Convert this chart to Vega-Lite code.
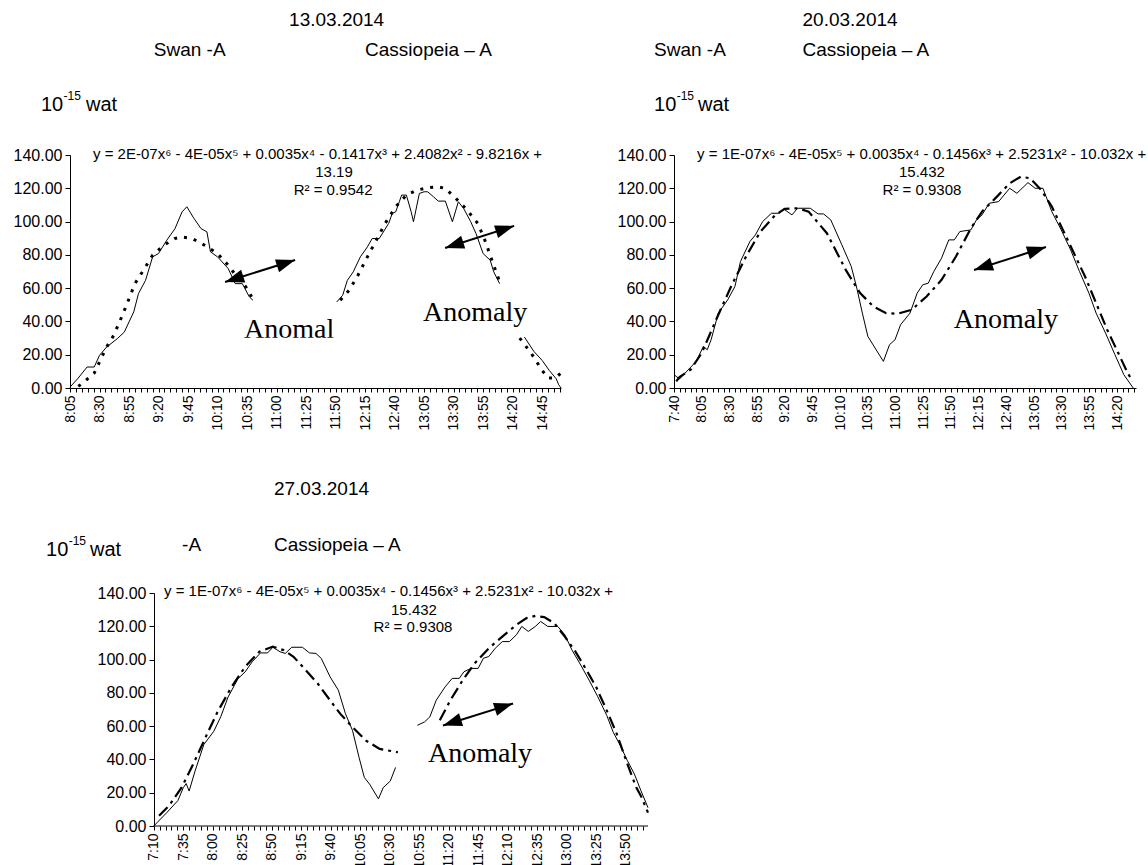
{
  "$schema": "https://vega.github.io/schema/vega-lite/v6.json",
  "padding": {"left": 13, "top": 10, "right": 5, "bottom": 5},
  "background": "white",
  "config": {
    "view": {"stroke": null},
    "axis": {"labelFont": "Liberation Sans", "labelColor": "black", "domainColor": "black", "tickColor": "black", "grid": false, "domainWidth": 1, "tickWidth": 1},
    "axisX": {"labelAngle": 270, "labelFontSize": 14, "tickSize": 4, "labelOverlap": false, "labelFlush": false, "labelPadding": 3, "labelBound": false},
    "axisY": {"labelFontSize": 16, "tickSize": 5, "labelPadding": 3},
    "text": {"font": "Liberation Sans", "color": "black"}
  },
  "datasets": {
    "l1": [
      {"s":"obs","g":"a","t":485,"v":0.5},{"s":"obs","g":"a","t":492,"v":6},{"s":"obs","g":"a","t":499.5,"v":12.6},{"s":"obs","g":"a","t":505.5,"v":12.6},{"s":"obs","g":"a","t":510,"v":19.6},{"s":"obs","g":"a","t":516,"v":24.6},{"s":"obs","g":"a","t":525,"v":29.6},{"s":"obs","g":"a","t":531,"v":33.6},{"s":"obs","g":"a","t":539,"v":45.7},{"s":"obs","g":"a","t":543,"v":56.7},{"s":"obs","g":"a","t":549,"v":64.7},{"s":"obs","g":"a","t":555,"v":78.8},{"s":"obs","g":"a","t":560,"v":80.8},{"s":"obs","g":"a","t":567,"v":88.8},{"s":"obs","g":"a","t":574,"v":95.8},{"s":"obs","g":"a","t":580,"v":105.9},{"s":"obs","g":"a","t":584,"v":108.9},{"s":"obs","g":"a","t":590,"v":101.9},{"s":"obs","g":"a","t":596,"v":95.8},{"s":"obs","g":"a","t":601,"v":93.8},{"s":"obs","g":"a","t":604,"v":81.8},{"s":"obs","g":"a","t":610,"v":78.8},{"s":"obs","g":"a","t":619,"v":71.8},{"s":"obs","g":"a","t":625,"v":62.7},{"s":"obs","g":"a","t":631,"v":62.7},{"s":"obs","g":"a","t":637,"v":54.7},{"s":"obs","g":"a","t":640,"v":52.7},
      {"s":"obs","g":"b","t":711,"v":51.7},{"s":"obs","g":"b","t":716,"v":55.7},{"s":"obs","g":"b","t":720,"v":64.7},{"s":"obs","g":"b","t":725,"v":69.8},{"s":"obs","g":"b","t":731,"v":78.8},{"s":"obs","g":"b","t":737,"v":84.8},{"s":"obs","g":"b","t":741,"v":89.8},{"s":"obs","g":"b","t":747,"v":89.8},{"s":"obs","g":"b","t":755,"v":98.9},{"s":"obs","g":"b","t":758,"v":104.9},{"s":"obs","g":"b","t":761,"v":105.9},{"s":"obs","g":"b","t":764,"v":111.9},{"s":"obs","g":"b","t":766,"v":115.9},{"s":"obs","g":"b","t":770,"v":115.9},{"s":"obs","g":"b","t":774,"v":106},{"s":"obs","g":"b","t":776,"v":99.9},{"s":"obs","g":"b","t":781,"v":116.9},{"s":"obs","g":"b","t":785,"v":117.9},{"s":"obs","g":"b","t":788,"v":117.9},{"s":"obs","g":"b","t":793,"v":114.9},{"s":"obs","g":"b","t":797,"v":112.3},{"s":"obs","g":"b","t":803,"v":112.3},{"s":"obs","g":"b","t":809,"v":99.9},{"s":"obs","g":"b","t":814,"v":111.9},{"s":"obs","g":"b","t":818.5,"v":107.9},{"s":"obs","g":"b","t":824.5,"v":99.9},{"s":"obs","g":"b","t":829,"v":92.8},{"s":"obs","g":"b","t":835,"v":80.8},{"s":"obs","g":"b","t":841,"v":76.8},{"s":"obs","g":"b","t":844,"v":69.8},{"s":"obs","g":"b","t":849,"v":62.7},
      {"s":"obs","g":"c","t":870,"v":30.6},{"s":"obs","g":"c","t":878,"v":22},{"s":"obs","g":"c","t":885,"v":16.6},{"s":"obs","g":"c","t":891,"v":10.6},{"s":"obs","g":"c","t":897,"v":5.5},{"s":"obs","g":"c","t":899,"v":2},{"s":"obs","g":"c","t":901,"v":0},
      {"s":"fit","g":"a","t":492,"v":1},{"s":"fit","g":"a","t":495,"v":2.5},{"s":"fit","g":"a","t":505.5,"v":8.9},{"s":"fit","g":"a","t":516,"v":24.6},{"s":"fit","g":"a","t":522,"v":31.6},{"s":"fit","g":"a","t":530,"v":44.7},{"s":"fit","g":"a","t":540,"v":62.7},{"s":"fit","g":"a","t":549,"v":72.8},{"s":"fit","g":"a","t":555,"v":79.8},{"s":"fit","g":"a","t":564.5,"v":85.8},{"s":"fit","g":"a","t":573.5,"v":89.8},{"s":"fit","g":"a","t":579.5,"v":90.8},{"s":"fit","g":"a","t":588.5,"v":89.8},{"s":"fit","g":"a","t":599,"v":85.8},{"s":"fit","g":"a","t":610,"v":80.8},{"s":"fit","g":"a","t":619,"v":73.8},{"s":"fit","g":"a","t":626.5,"v":66.7},{"s":"fit","g":"a","t":634,"v":60.7},{"s":"fit","g":"a","t":641.5,"v":51.7},
      {"s":"fit","g":"b","t":714,"v":52.7},{"s":"fit","g":"b","t":721.5,"v":58.7},{"s":"fit","g":"b","t":729,"v":67.8},{"s":"fit","g":"b","t":737,"v":78.8},{"s":"fit","g":"b","t":744.5,"v":88.8},{"s":"fit","g":"b","t":752,"v":98.9},{"s":"fit","g":"b","t":761,"v":108.9},{"s":"fit","g":"b","t":770,"v":115.9},{"s":"fit","g":"b","t":779,"v":118.9},{"s":"fit","g":"b","t":788,"v":120.3},{"s":"fit","g":"b","t":797,"v":120.9},{"s":"fit","g":"b","t":803,"v":119.9},{"s":"fit","g":"b","t":812,"v":113.9},{"s":"fit","g":"b","t":821.5,"v":106.9},{"s":"fit","g":"b","t":830.5,"v":98.9},{"s":"fit","g":"b","t":836.5,"v":88.8},{"s":"fit","g":"b","t":842.5,"v":76.8},{"s":"fit","g":"b","t":848.5,"v":64.7},
      {"s":"fit","g":"c","t":866,"v":30},{"s":"fit","g":"c","t":876,"v":20.6},{"s":"fit","g":"c","t":885,"v":10.6},{"s":"fit","g":"c","t":890,"v":6},{"s":"fit","g":"c","t":896,"v":6},{"s":"fit","g":"c","t":901,"v":9}
    ],
    "l2": [
      {"s":"obs","g":"a","t":460,"v":8},{"s":"obs","g":"a","t":465,"v":5.4},{"s":"obs","g":"a","t":480,"v":16},{"s":"obs","g":"a","t":486.5,"v":25},{"s":"obs","g":"a","t":490,"v":23},{"s":"obs","g":"a","t":493.5,"v":29},{"s":"obs","g":"a","t":500,"v":45},{"s":"obs","g":"a","t":508.5,"v":53},{"s":"obs","g":"a","t":515,"v":61},{"s":"obs","g":"a","t":520,"v":76},{"s":"obs","g":"a","t":528.5,"v":88},{"s":"obs","g":"a","t":533.5,"v":92},{"s":"obs","g":"a","t":540,"v":100},{"s":"obs","g":"a","t":548,"v":105},{"s":"obs","g":"a","t":555,"v":105},{"s":"obs","g":"a","t":559,"v":107.6},{"s":"obs","g":"a","t":566.5,"v":104},{"s":"obs","g":"a","t":571.5,"v":108},{"s":"obs","g":"a","t":583,"v":108},{"s":"obs","g":"a","t":590,"v":104.6},{"s":"obs","g":"a","t":595,"v":104.6},{"s":"obs","g":"a","t":601.5,"v":101},{"s":"obs","g":"a","t":611.5,"v":86},{"s":"obs","g":"a","t":620,"v":73},{"s":"obs","g":"a","t":625,"v":60},{"s":"obs","g":"a","t":630,"v":45},{"s":"obs","g":"a","t":635,"v":31},{"s":"obs","g":"a","t":641.5,"v":24},{"s":"obs","g":"a","t":649,"v":16},{"s":"obs","g":"a","t":654.5,"v":26},{"s":"obs","g":"a","t":659.5,"v":29},{"s":"obs","g":"a","t":664.5,"v":38},{"s":"obs","g":"a","t":673,"v":45},{"s":"obs","g":"a","t":679.5,"v":57},{"s":"obs","g":"a","t":684.5,"v":62},{"s":"obs","g":"a","t":689.5,"v":63},{"s":"obs","g":"a","t":694.5,"v":70},{"s":"obs","g":"a","t":701.5,"v":78},{"s":"obs","g":"a","t":708,"v":89},{"s":"obs","g":"a","t":713,"v":89},{"s":"obs","g":"a","t":718,"v":94},{"s":"obs","g":"a","t":728,"v":95},{"s":"obs","g":"a","t":733,"v":101},{"s":"obs","g":"a","t":738,"v":104},{"s":"obs","g":"a","t":744.5,"v":111},{"s":"obs","g":"a","t":753,"v":112},{"s":"obs","g":"a","t":763,"v":120},{"s":"obs","g":"a","t":769.5,"v":117},{"s":"obs","g":"a","t":779.5,"v":123.4},{"s":"obs","g":"a","t":786,"v":120},{"s":"obs","g":"a","t":793,"v":120},{"s":"obs","g":"a","t":801,"v":106},{"s":"obs","g":"a","t":809.5,"v":95},{"s":"obs","g":"a","t":818,"v":83},{"s":"obs","g":"a","t":826,"v":70},{"s":"obs","g":"a","t":834.5,"v":57},{"s":"obs","g":"a","t":841,"v":45},{"s":"obs","g":"a","t":849.5,"v":33},{"s":"obs","g":"a","t":858,"v":20},{"s":"obs","g":"a","t":866,"v":8},{"s":"obs","g":"a","t":874.5,"v":0},
      {"s":"fit","g":"a","t":462,"v":4},{"s":"fit","g":"a","t":465,"v":6.6},{"s":"fit","g":"a","t":475,"v":11},{"s":"fit","g":"a","t":485,"v":21},{"s":"fit","g":"a","t":498,"v":41},{"s":"fit","g":"a","t":511.5,"v":61},{"s":"fit","g":"a","t":525,"v":79},{"s":"fit","g":"a","t":538,"v":94},{"s":"fit","g":"a","t":551.5,"v":104},{"s":"fit","g":"a","t":560,"v":107.6},{"s":"fit","g":"a","t":571.5,"v":108},{"s":"fit","g":"a","t":581.5,"v":106},{"s":"fit","g":"a","t":598,"v":93},{"s":"fit","g":"a","t":615,"v":71},{"s":"fit","g":"a","t":628,"v":57},{"s":"fit","g":"a","t":640,"v":49},{"s":"fit","g":"a","t":651.5,"v":45},{"s":"fit","g":"a","t":661.5,"v":44.6},{"s":"fit","g":"a","t":674.5,"v":47},{"s":"fit","g":"a","t":688,"v":55},{"s":"fit","g":"a","t":701.5,"v":65},{"s":"fit","g":"a","t":714.5,"v":79},{"s":"fit","g":"a","t":728,"v":96},{"s":"fit","g":"a","t":738,"v":106},{"s":"fit","g":"a","t":751.5,"v":115},{"s":"fit","g":"a","t":763,"v":123},{"s":"fit","g":"a","t":773,"v":127},{"s":"fit","g":"a","t":781.5,"v":126},{"s":"fit","g":"a","t":791.5,"v":119},{"s":"fit","g":"a","t":801,"v":109},{"s":"fit","g":"a","t":811,"v":95},{"s":"fit","g":"a","t":821,"v":81},{"s":"fit","g":"a","t":831,"v":67},{"s":"fit","g":"a","t":841,"v":51},{"s":"fit","g":"a","t":851,"v":35},{"s":"fit","g":"a","t":861,"v":21},{"s":"fit","g":"a","t":869.5,"v":9},{"s":"fit","g":"a","t":874,"v":4}
    ],
    "l3": [
      {"s":"obs","g":"a","t":430,"v":0},{"s":"obs","g":"a","t":441,"v":8},{"s":"obs","g":"a","t":450.5,"v":15.3},{"s":"obs","g":"a","t":455,"v":23},{"s":"obs","g":"a","t":457.5,"v":25.5},{"s":"obs","g":"a","t":460,"v":21},{"s":"obs","g":"a","t":465,"v":33},{"s":"obs","g":"a","t":472.5,"v":49},{"s":"obs","g":"a","t":481,"v":57},{"s":"obs","g":"a","t":487,"v":66},{"s":"obs","g":"a","t":493,"v":77.5},{"s":"obs","g":"a","t":501.5,"v":88.6},{"s":"obs","g":"a","t":507.5,"v":92.6},{"s":"obs","g":"a","t":513.5,"v":98.7},{"s":"obs","g":"a","t":520.5,"v":104},{"s":"obs","g":"a","t":526.5,"v":104},{"s":"obs","g":"a","t":531,"v":107.4},{"s":"obs","g":"a","t":537,"v":104.7},{"s":"obs","g":"a","t":541.5,"v":103.7},{"s":"obs","g":"a","t":547,"v":107.4},{"s":"obs","g":"a","t":556,"v":107.4},{"s":"obs","g":"a","t":562,"v":104},{"s":"obs","g":"a","t":567.5,"v":103.7},{"s":"obs","g":"a","t":572,"v":100.7},{"s":"obs","g":"a","t":579.5,"v":89.6},{"s":"obs","g":"a","t":586.5,"v":81.6},{"s":"obs","g":"a","t":592.5,"v":67.5},{"s":"obs","g":"a","t":598.5,"v":57.4},{"s":"obs","g":"a","t":604,"v":41.3},{"s":"obs","g":"a","t":608.5,"v":29.2},{"s":"obs","g":"a","t":613,"v":25.1},{"s":"obs","g":"a","t":620.5,"v":16.3},{"s":"obs","g":"a","t":624.5,"v":23},{"s":"obs","g":"a","t":630.5,"v":27},{"s":"obs","g":"a","t":635,"v":35.2},
      {"s":"obs","g":"b","t":653.5,"v":60.5},{"s":"obs","g":"b","t":659.5,"v":62.5},{"s":"obs","g":"b","t":664,"v":65.5},{"s":"obs","g":"b","t":669.5,"v":75.6},{"s":"obs","g":"b","t":677,"v":83.6},{"s":"obs","g":"b","t":683,"v":88.7},{"s":"obs","g":"b","t":689,"v":88.7},{"s":"obs","g":"b","t":693,"v":92.7},{"s":"obs","g":"b","t":699,"v":94.7},{"s":"obs","g":"b","t":705,"v":94.7},{"s":"obs","g":"b","t":709.5,"v":100.8},{"s":"obs","g":"b","t":714,"v":101.8},{"s":"obs","g":"b","t":719.5,"v":106.8},{"s":"obs","g":"b","t":725.5,"v":110.8},{"s":"obs","g":"b","t":731.5,"v":110.8},{"s":"obs","g":"b","t":737.5,"v":114.9},{"s":"obs","g":"b","t":742,"v":119.9},{"s":"obs","g":"b","t":747.5,"v":116.9},{"s":"obs","g":"b","t":753.5,"v":119.9},{"s":"obs","g":"b","t":758,"v":122.9},{"s":"obs","g":"b","t":764,"v":119.9},{"s":"obs","g":"b","t":772.5,"v":119.9},{"s":"obs","g":"b","t":778.5,"v":114.9},{"s":"obs","g":"b","t":784.5,"v":105.8},{"s":"obs","g":"b","t":792,"v":96.7},{"s":"obs","g":"b","t":799,"v":87.7},{"s":"obs","g":"b","t":806.5,"v":77.6},{"s":"obs","g":"b","t":814,"v":66.5},{"s":"obs","g":"b","t":819.5,"v":56.4},{"s":"obs","g":"b","t":825.5,"v":48.4},{"s":"obs","g":"b","t":831.5,"v":39.3},{"s":"obs","g":"b","t":837.5,"v":31.2},{"s":"obs","g":"b","t":843,"v":21.2},{"s":"obs","g":"b","t":849,"v":11},
      {"s":"fit","g":"a","t":434.5,"v":6.1},{"s":"fit","g":"a","t":443,"v":12.2},{"s":"fit","g":"a","t":453.5,"v":23},{"s":"fit","g":"a","t":463.5,"v":37.2},{"s":"fit","g":"a","t":474,"v":53.4},{"s":"fit","g":"a","t":484,"v":68.5},{"s":"fit","g":"a","t":496,"v":83.6},{"s":"fit","g":"a","t":507.5,"v":95.7},{"s":"fit","g":"a","t":519.5,"v":104.7},{"s":"fit","g":"a","t":531,"v":107.8},{"s":"fit","g":"a","t":540,"v":105.7},{"s":"fit","g":"a","t":548.5,"v":101.7},{"s":"fit","g":"a","t":557.5,"v":94.7},{"s":"fit","g":"a","t":569,"v":85.6},{"s":"fit","g":"a","t":579.5,"v":75.5},{"s":"fit","g":"a","t":588,"v":67.5},{"s":"fit","g":"a","t":598.5,"v":59.4},{"s":"fit","g":"a","t":610,"v":51.3},{"s":"fit","g":"a","t":621.5,"v":46.3},{"s":"fit","g":"a","t":637,"v":44.3},
      {"s":"fit","g":"b","t":672.5,"v":63.5},{"s":"fit","g":"b","t":681.5,"v":75.6},{"s":"fit","g":"b","t":692,"v":87.7},{"s":"fit","g":"b","t":702,"v":97.7},{"s":"fit","g":"b","t":714,"v":106.8},{"s":"fit","g":"b","t":725.5,"v":113.8},{"s":"fit","g":"b","t":737.5,"v":120.9},{"s":"fit","g":"b","t":746,"v":124.9},{"s":"fit","g":"b","t":753.5,"v":126.3},{"s":"fit","g":"b","t":761,"v":125.5},{"s":"fit","g":"b","t":769.5,"v":121.9},{"s":"fit","g":"b","t":778.5,"v":113.8},{"s":"fit","g":"b","t":787.5,"v":104.8},{"s":"fit","g":"b","t":796,"v":94.7},{"s":"fit","g":"b","t":805,"v":83.6},{"s":"fit","g":"b","t":814,"v":69.5},{"s":"fit","g":"b","t":822.5,"v":55.4},{"s":"fit","g":"b","t":831.5,"v":37.3},{"s":"fit","g":"b","t":839,"v":23.2},{"s":"fit","g":"b","t":843,"v":18.1},{"s":"fit","g":"b","t":849,"v":8},
      {"s":"base","g":"z","t":430,"v":0},{"s":"base","g":"z","t":849,"v":0}
    ],
    "a1": [
      {"k":"A","e":"l","t":616.4,"v":63.7},{"k":"A","e":"r","t":675.7,"v":76.9},
      {"k":"B","e":"l","t":802.8,"v":84.1},{"k":"B","e":"r","t":861.3,"v":97.4}
    ],
    "a2": [
      {"k":"A","e":"l","t":730.8,"v":70.9},{"k":"A","e":"r","t":795.7,"v":84.7}
    ],
    "a3": [
      {"k":"A","e":"l","t":675.2,"v":60.4},{"k":"A","e":"r","t":734.6,"v":73.6}
    ],
    "m1": [
      {"t":628,"t2":714,"v":20,"v2":30.2}
    ],
    "x1": [
      {"k":"hdr","t":670.6,"v":221.2,"label":"13.03.2014"},
      {"k":"hdr","t":556,"v":203.1,"label":"Swan -A"},
      {"k":"hdr","t":735,"v":203.1,"label":"Cassiopeia – A"},
      {"k":"big","t":460.4,"v":170.1,"label":"10"},
      {"k":"sup","t":479.5,"v":175.5,"label":"-15"},
      {"k":"big","t":498.6,"v":170.1,"label":"wat"},
      {"k":"eql","t":504.5,"v":140.5,"label":"y = 2E-07x⁶ - 4E-05x⁵ + 0.0035x⁴ - 0.1417x³ + 2.4082x² - 9.8216x +"},
      {"k":"eqc","t":708.7,"v":129.5,"label":"13.19"},
      {"k":"eqc","t":707.9,"v":119,"label":"R² = 0.9542"},
      {"k":"an","t":670.6,"v":34.9,"label":"Anomal"},
      {"k":"an","t":828.2,"v":45.1,"label":"Anomaly"}
    ],
    "x2": [
      {"k":"hdr","t":576,"v":221.2,"label":"20.03.2014"},
      {"k":"hdr","t":442,"v":203.1,"label":"Swan -A"},
      {"k":"hdr","t":576,"v":203.1,"label":"Cassiopeia – A"},
      {"k":"big","t":442,"v":170.1,"label":"10"},
      {"k":"sup","t":462.4,"v":175.5,"label":"-15"},
      {"k":"big","t":481.7,"v":170.1,"label":"wat"},
      {"k":"eql","t":480.8,"v":140.5,"label":"y = 1E-07x⁶ - 4E-05x⁵ + 0.0035x⁴ - 0.1456x³ + 2.5231x² - 10.032x +"},
      {"k":"eqc","t":683.8,"v":129.5,"label":"15.432"},
      {"k":"eqc","t":683.8,"v":119,"label":"R² = 0.9308"},
      {"k":"an","t":759.6,"v":40.9,"label":"Anomaly"}
    ],
    "x3": [
      {"k":"hdr","t":531.9,"v":202.2,"label":"27.03.2014"},
      {"k":"hdr","t":454,"v":169,"label":"-A"},
      {"k":"hdr","t":531.9,"v":169,"label":"Cassiopeia – A"},
      {"k":"big","t":338.7,"v":166,"label":"10"},
      {"k":"sup","t":357.9,"v":171.4,"label":"-15"},
      {"k":"big","t":376,"v":166,"label":"wat"},
      {"k":"eql","t":438.7,"v":141,"label":"y = 1E-07x⁶ - 4E-05x⁵ + 0.0035x⁴ - 0.1456x³ + 2.5231x² - 10.032x +"},
      {"k":"eqc","t":650.6,"v":130,"label":"15.432"},
      {"k":"eqc","t":649.8,"v":119.5,"label":"R² = 0.9308"},
      {"k":"an","t":706.6,"v":43.5,"label":"Anomaly"}
    ]
  },
  "columns": 2,
  "bounds": "flush",
  "spacing": {"row": 205, "column": 26},
  "concat": [
    {
      "width": 491, "height": 233,
      "encoding": {
        "x": {"field": "t", "type": "quantitative", "scale": {"domain": [485, 901], "nice": false, "zero": false},
              "axis": {"title": null, "values": [485,490,495,500,505,510,515,520,525,530,535,540,545,550,555,560,565,570,575,580,585,590,595,600,605,610,615,620,625,630,635,640,645,650,655,660,665,670,675,680,685,690,695,700,705,710,715,720,725,730,735,740,745,750,755,760,765,770,775,780,785,790,795,800,805,810,815,820,825,830,835,840,845,850,855,860,865,870,875,880,885,890,895,900],
                       "labelExpr": "(datum.value - 485) % 25 == 0 ? floor(datum.value / 60) + ':' + (datum.value % 60 < 10 ? '0' : '') + (datum.value % 60) : ''"}},
        "y": {"field": "v", "type": "quantitative", "scale": {"domain": [0, 140], "nice": false},
              "axis": {"title": null, "values": [0,20,40,60,80,100,120,140], "format": ".2f"}}
      },
      "layer": [
        {"data": {"name": "l1"}, "transform": [{"filter": "datum.s == 'obs'"}], "mark": {"type": "line", "color": "black", "strokeWidth": 1}, "encoding": {"detail": {"field": "g", "type": "nominal"}}},
        {"data": {"name": "l1"}, "transform": [{"filter": "datum.s == 'fit'"}], "mark": {"type": "line", "color": "black", "strokeWidth": 3, "strokeDash": [3, 7]}, "encoding": {"detail": {"field": "g", "type": "nominal"}}},
        {"data": {"name": "a1"}, "mark": {"type": "line", "color": "black", "strokeWidth": 2}, "encoding": {"detail": {"field": "k", "type": "nominal"}}},
        {"data": {"name": "a1"}, "transform": [{"filter": "datum.e == 'r'"}], "mark": {"type": "point", "shape": "M0,0L-2,-0.7L-2,0.7Z", "filled": true, "color": "black", "opacity": 1, "size": 361, "angle": 342}},
        {"data": {"name": "a1"}, "transform": [{"filter": "datum.e == 'l'"}], "mark": {"type": "point", "shape": "M0,0L-2,-0.7L-2,0.7Z", "filled": true, "color": "black", "opacity": 1, "size": 361, "angle": 162}},
        {"data": {"name": "x1"}, "transform": [{"filter": "datum.k == 'hdr'"}], "mark": {"type": "text", "align": "left", "baseline": "middle", "fontSize": 19}, "encoding": {"text": {"field": "label", "type": "nominal"}}},
        {"data": {"name": "x1"}, "transform": [{"filter": "datum.k == 'big'"}], "mark": {"type": "text", "align": "left", "baseline": "middle", "fontSize": 20}, "encoding": {"text": {"field": "label", "type": "nominal"}}},
        {"data": {"name": "x1"}, "transform": [{"filter": "datum.k == 'sup'"}], "mark": {"type": "text", "align": "left", "baseline": "middle", "fontSize": 12}, "encoding": {"text": {"field": "label", "type": "nominal"}}},
        {"data": {"name": "x1"}, "transform": [{"filter": "datum.k == 'eql'"}], "mark": {"type": "text", "align": "left", "baseline": "middle", "fontSize": 15}, "encoding": {"text": {"field": "label", "type": "nominal"}}},
        {"data": {"name": "x1"}, "transform": [{"filter": "datum.k == 'eqc'"}], "mark": {"type": "text", "align": "center", "baseline": "middle", "fontSize": 15}, "encoding": {"text": {"field": "label", "type": "nominal"}}},
        {"data": {"name": "x1"}, "transform": [{"filter": "datum.k == 'an'"}], "mark": {"type": "text", "align": "center", "baseline": "middle", "fontSize": 28, "font": "Liberation Serif"}, "encoding": {"text": {"field": "label", "type": "nominal"}}},
        {"data": {"name": "m1"}, "mark": {"type": "rect", "color": "white", "opacity": 1}, "encoding": {"x2": {"field": "t2"}, "y2": {"field": "v2"}}}
      ]
    },
    {
      "width": 462, "height": 233,
      "encoding": {
        "x": {"field": "t", "type": "quantitative", "scale": {"domain": [460, 877], "nice": false, "zero": false},
              "axis": {"title": null, "values": [460,465,470,475,480,485,490,495,500,505,510,515,520,525,530,535,540,545,550,555,560,565,570,575,580,585,590,595,600,605,610,615,620,625,630,635,640,645,650,655,660,665,670,675,680,685,690,695,700,705,710,715,720,725,730,735,740,745,750,755,760,765,770,775,780,785,790,795,800,805,810,815,820,825,830,835,840,845,850,855,860,865,870,875],
                       "labelExpr": "(datum.value - 460) % 25 == 0 ? floor(datum.value / 60) + ':' + (datum.value % 60 < 10 ? '0' : '') + (datum.value % 60) : ''"}},
        "y": {"field": "v", "type": "quantitative", "scale": {"domain": [0, 140], "nice": false},
              "axis": {"title": null, "values": [0,20,40,60,80,100,120,140], "format": ".2f"}}
      },
      "layer": [
        {"data": {"name": "l2"}, "transform": [{"filter": "datum.s == 'obs'"}], "mark": {"type": "line", "color": "black", "strokeWidth": 1}, "encoding": {"detail": {"field": "g", "type": "nominal"}}},
        {"data": {"name": "l2"}, "transform": [{"filter": "datum.s == 'fit'"}], "mark": {"type": "line", "color": "black", "strokeWidth": 2.2, "strokeDash": [12, 5, 3, 5]}, "encoding": {"detail": {"field": "g", "type": "nominal"}}},
        {"data": {"name": "a2"}, "mark": {"type": "line", "color": "black", "strokeWidth": 2}, "encoding": {"detail": {"field": "k", "type": "nominal"}}},
        {"data": {"name": "a2"}, "transform": [{"filter": "datum.e == 'r'"}], "mark": {"type": "point", "shape": "M0,0L-2,-0.7L-2,0.7Z", "filled": true, "color": "black", "opacity": 1, "size": 361, "angle": 342}},
        {"data": {"name": "a2"}, "transform": [{"filter": "datum.e == 'l'"}], "mark": {"type": "point", "shape": "M0,0L-2,-0.7L-2,0.7Z", "filled": true, "color": "black", "opacity": 1, "size": 361, "angle": 162}},
        {"data": {"name": "x2"}, "transform": [{"filter": "datum.k == 'hdr'"}], "mark": {"type": "text", "align": "left", "baseline": "middle", "fontSize": 19}, "encoding": {"text": {"field": "label", "type": "nominal"}}},
        {"data": {"name": "x2"}, "transform": [{"filter": "datum.k == 'big'"}], "mark": {"type": "text", "align": "left", "baseline": "middle", "fontSize": 20}, "encoding": {"text": {"field": "label", "type": "nominal"}}},
        {"data": {"name": "x2"}, "transform": [{"filter": "datum.k == 'sup'"}], "mark": {"type": "text", "align": "left", "baseline": "middle", "fontSize": 12}, "encoding": {"text": {"field": "label", "type": "nominal"}}},
        {"data": {"name": "x2"}, "transform": [{"filter": "datum.k == 'eql'"}], "mark": {"type": "text", "align": "left", "baseline": "middle", "fontSize": 15}, "encoding": {"text": {"field": "label", "type": "nominal"}}},
        {"data": {"name": "x2"}, "transform": [{"filter": "datum.k == 'eqc'"}], "mark": {"type": "text", "align": "center", "baseline": "middle", "fontSize": 15}, "encoding": {"text": {"field": "label", "type": "nominal"}}},
        {"data": {"name": "x2"}, "transform": [{"filter": "datum.k == 'an'"}], "mark": {"type": "text", "align": "center", "baseline": "middle", "fontSize": 28, "font": "Liberation Serif"}, "encoding": {"text": {"field": "label", "type": "nominal"}}}
      ]
    },
    {
      "width": 578, "height": 233,
      "encoding": {
        "x": {"field": "t", "type": "quantitative", "scale": {"domain": [359, 849], "nice": false, "zero": false},
              "axis": {"title": null, "domain": false, "values": [430,435,440,445,450,455,460,465,470,475,480,485,490,495,500,505,510,515,520,525,530,535,540,545,550,555,560,565,570,575,580,585,590,595,600,605,610,615,620,625,630,635,640,645,650,655,660,665,670,675,680,685,690,695,700,705,710,715,720,725,730,735,740,745,750,755,760,765,770,775,780,785,790,795,800,805,810,815,820,825,830,835,840,845],
                       "labelExpr": "(datum.value - 430) % 25 == 0 ? floor(datum.value / 60) + ':' + (datum.value % 60 < 10 ? '0' : '') + (datum.value % 60) : ''"}},
        "y": {"field": "v", "type": "quantitative", "scale": {"domain": [0, 140], "nice": false},
              "axis": {"title": null, "offset": -84, "values": [0,20,40,60,80,100,120,140], "format": ".2f"}}
      },
      "layer": [
        {"data": {"name": "l3"}, "transform": [{"filter": "datum.s == 'obs'"}], "mark": {"type": "line", "color": "black", "strokeWidth": 1}, "encoding": {"detail": {"field": "g", "type": "nominal"}}},
        {"data": {"name": "l3"}, "transform": [{"filter": "datum.s == 'base'"}], "mark": {"type": "line", "color": "black", "strokeWidth": 1}, "encoding": {"detail": {"field": "g", "type": "nominal"}}},
        {"data": {"name": "l3"}, "transform": [{"filter": "datum.s == 'fit'"}], "mark": {"type": "line", "color": "black", "strokeWidth": 2.2, "strokeDash": [12, 5, 3, 5]}, "encoding": {"detail": {"field": "g", "type": "nominal"}}},
        {"data": {"name": "a3"}, "mark": {"type": "line", "color": "black", "strokeWidth": 2}, "encoding": {"detail": {"field": "k", "type": "nominal"}}},
        {"data": {"name": "a3"}, "transform": [{"filter": "datum.e == 'r'"}], "mark": {"type": "point", "shape": "M0,0L-2,-0.7L-2,0.7Z", "filled": true, "color": "black", "opacity": 1, "size": 361, "angle": 342}},
        {"data": {"name": "a3"}, "transform": [{"filter": "datum.e == 'l'"}], "mark": {"type": "point", "shape": "M0,0L-2,-0.7L-2,0.7Z", "filled": true, "color": "black", "opacity": 1, "size": 361, "angle": 162}},
        {"data": {"name": "x3"}, "transform": [{"filter": "datum.k == 'hdr'"}], "mark": {"type": "text", "align": "left", "baseline": "middle", "fontSize": 19}, "encoding": {"text": {"field": "label", "type": "nominal"}}},
        {"data": {"name": "x3"}, "transform": [{"filter": "datum.k == 'big'"}], "mark": {"type": "text", "align": "left", "baseline": "middle", "fontSize": 20}, "encoding": {"text": {"field": "label", "type": "nominal"}}},
        {"data": {"name": "x3"}, "transform": [{"filter": "datum.k == 'sup'"}], "mark": {"type": "text", "align": "left", "baseline": "middle", "fontSize": 12}, "encoding": {"text": {"field": "label", "type": "nominal"}}},
        {"data": {"name": "x3"}, "transform": [{"filter": "datum.k == 'eql'"}], "mark": {"type": "text", "align": "left", "baseline": "middle", "fontSize": 15}, "encoding": {"text": {"field": "label", "type": "nominal"}}},
        {"data": {"name": "x3"}, "transform": [{"filter": "datum.k == 'eqc'"}], "mark": {"type": "text", "align": "center", "baseline": "middle", "fontSize": 15}, "encoding": {"text": {"field": "label", "type": "nominal"}}},
        {"data": {"name": "x3"}, "transform": [{"filter": "datum.k == 'an'"}], "mark": {"type": "text", "align": "center", "baseline": "middle", "fontSize": 28, "font": "Liberation Serif"}, "encoding": {"text": {"field": "label", "type": "nominal"}}}
      ]
    }
  ]
}
